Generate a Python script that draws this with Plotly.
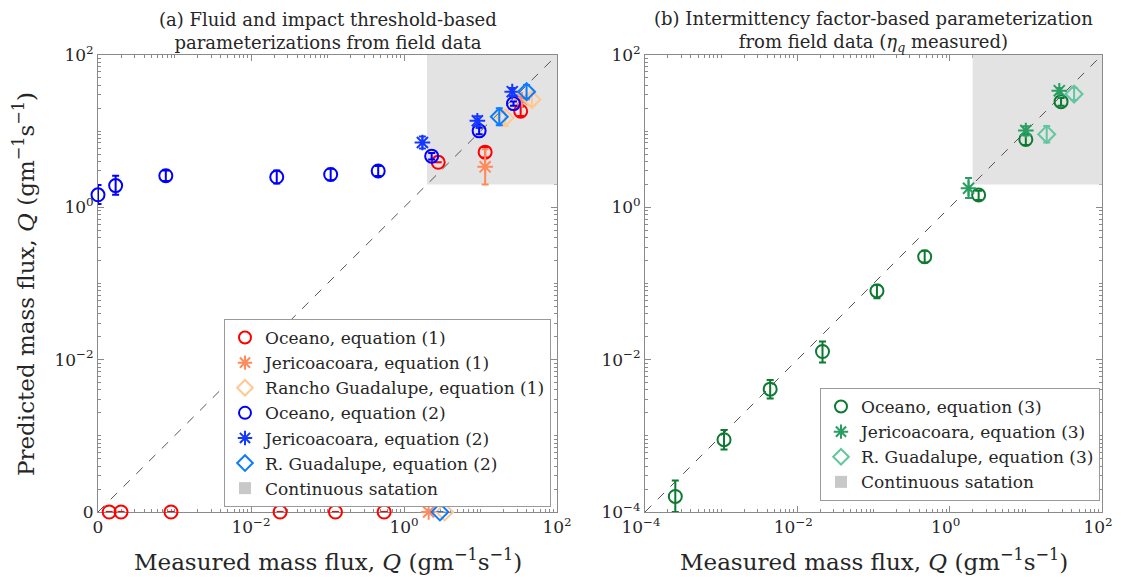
import numpy as np
import plotly.graph_objects as go

# ---------------- data ----------------
AXIS_MIN, AXIS_MAX = 1e-4, 1e2          # both panels: 1e-4 .. 1e2 ("0" drawn at 1e-4 on panel a)
CS_THRESHOLD = 2.0                       # continuous saltation region (Q > 2)

# panel (a)  -- equation (1)
oce1_x = [1.4e-4, 2.0e-4, 9.0e-4, 0.024, 0.127, 0.55, 2.8, 11.5, 33.5]
oce1_y = [1e-4, 1e-4, 1e-4, 1e-4, 1e-4, 1e-4, 3.9, 5.3, 18.3]   # 1e-4 == predicted 0
oce1_ep = [0, 0, 0, 0, 0, 0, 0, 0.9, 2.8]
oce1_em = [0, 0, 0, 0, 0, 0, 0, 0.8, 2.5]

jer1_x = [2.1, 11.5, 35.0]
jer1_y = [1e-4, 3.4, 26.0]
jer1_ep = [0, 2.4, 2.0]
jer1_em = [0, 1.4, 2.0]

rg1_x = [3.4, 21.0, 47.0]
rg1_y = [1e-4, 15.0, 26.0]
rg1_ep = [0, 4.0, 5.5]
rg1_em = [0, 3.2, 4.5]

# panel (a)  -- equation (2)
oce2_x = [1.0e-4, 1.7e-4, 7.7e-4, 0.0217, 0.11, 0.46, 2.3, 9.6, 27.0]
oce2_y = [1.46, 1.93, 2.6, 2.5, 2.7, 3.0, 4.7, 10.1, 23.0]
oce2_ep = [0.51, 0.67, 0.45, 0.54, 0.52, 0.49, 0.45, 1.0, 1.5]
oce2_em = [0.35, 0.47, 0.38, 0.44, 0.43, 0.42, 0.45, 1.0, 1.5]

jer2_x = [1.74, 9.1, 26.0]
jer2_y = [7.1, 13.7, 33.0]
jer2_ep = [1.4, 2.0, 4.0]
jer2_em = [1.2, 2.0, 4.0]

rg2_x = [2.95, 17.6, 40.0]
rg2_y = [1e-4, 15.5, 33.0]
rg2_ep = [0, 4.5, 7.5]
rg2_em = [0, 3.5, 6.0]

# panel (b)  -- equation (3)
oce3_x = [2.5e-4, 1.09e-3, 4.4e-3, 0.0214, 0.111, 0.47, 2.4, 10.0, 29.0]
oce3_y = [1.6e-4, 8.9e-4, 4.1e-3, 0.0128, 0.080, 0.225, 1.45, 7.8, 24.4]
oce3_ep = [1.0e-4, 3.0e-4, 1.3e-3, 4.5e-3, 0.016, 0.045, 0.2, 1.2, 2.9]
oce3_em = [0.6e-4, 2.3e-4, 1.0e-3, 3.6e-3, 0.016, 0.037, 0.2, 1.2, 2.9]

jer3_x = [1.77, 10.0, 27.5]
jer3_y = [1.78, 10.2, 34.0]
jer3_ep = [0.65, 1.4, 3.0]
jer3_em = [0.45, 1.4, 3.0]

rg3_x = [18.8, 43.0]
rg3_y = [9.1, 30.7]
rg3_ep = [2.6, 6.5]
rg3_em = [2.0, 5.0]

tick_vals = [1e-4, 1e-2, 1e0, 1e2]
tick_text_a = ["0", "10<sup>\u22122</sup>", "10<sup>0</sup>", "10<sup>2</sup>"]
tick_text_b = ["10<sup>\u22124</sup>", "10<sup>\u22122</sup>", "10<sup>0</sup>", "10<sup>2</sup>"]

# ---------------- styling ----------------
FONT = "DejaVu Serif"
TXT = "#262626"
AXC = "#8a8a8a"
SHADE = "#e3e3e3"
SWATCH = "#c8c8c8"

# the page body has an 8 px margin: the figure is sized to the window minus it,
# and positions measured in window pixels are shifted by OFF
OFF = 8
WIN_W, WIN_H = 1121, 582
W, H = WIN_W - OFF, WIN_H - OFF


def px(xw):
    return (xw - OFF) / W


def py(yw):
    return (H - (yw - OFF)) / H


xa_dom = [px(98), px(557)]
xb_dom = [px(645), px(1102)]
y_dom = [py(512), py(55)]

minor_vals = [m * 10.0 ** e for e in range(-4, 2) for m in range(2, 10)] + [1e-3, 1e-1, 1e1]
TINY = 1e-9   # lets plotly draw the (collapsed) error-bar caps of zero-length bars

fig = go.Figure()


def add_series(x, y, ep, em, name, color, symbol, xref, yref, legend, size=13):
    fig.add_trace(go.Scatter(
        x=x, y=y, mode="markers", name=name,
        xaxis=xref, yaxis=yref, legend=legend, cliponaxis=False,
        marker=dict(symbol=symbol, size=size, color=color,
                    line=dict(color=color, width=2)),
        error_y=dict(type="data", symmetric=False,
                     array=[max(e, TINY) for e in ep],
                     arrayminus=[max(e, TINY) for e in em],
                     color=color, thickness=2, width=3.5),
    ))


for xref, yref, legend in (("x", "y", "legend"), ("x2", "y2", "legend2")):
    # continuous saltation shading
    fig.add_trace(go.Scatter(
        x=[CS_THRESHOLD, AXIS_MAX, AXIS_MAX, CS_THRESHOLD, CS_THRESHOLD],
        y=[CS_THRESHOLD, CS_THRESHOLD, AXIS_MAX, AXIS_MAX, CS_THRESHOLD],
        mode="lines", fill="toself", fillcolor=SHADE, line=dict(width=0, color=SHADE),
        showlegend=False, xaxis=xref, yaxis=yref, hoverinfo="skip"))
    # legend swatch for the shaded region
    fig.add_trace(go.Scatter(
        x=[None], y=[None], mode="markers", name="Continuous satation",
        marker=dict(symbol="square", size=20, color=SWATCH),
        legendrank=2000, xaxis=xref, yaxis=yref, legend=legend))
    # 1:1 line
    fig.add_trace(go.Scatter(
        x=[AXIS_MIN, AXIS_MAX], y=[AXIS_MIN, AXIS_MAX], mode="lines",
        line=dict(color="#555555", width=1, dash="dash"), showlegend=False,
        xaxis=xref, yaxis=yref, hoverinfo="skip"))

add_series(oce1_x, oce1_y, oce1_ep, oce1_em, "Oceano, equation (1)", "#ff0000", "circle-open", "x", "y", "legend")
add_series(jer1_x, jer1_y, jer1_ep, jer1_em, "Jericoacoara, equation (1)", "#ff8a5c", "asterisk-open", "x", "y", "legend")
add_series(rg1_x, rg1_y, rg1_ep, rg1_em, "Rancho Guadalupe, equation (1)", "#ffc890", "diamond-open", "x", "y", "legend")
add_series(oce2_x, oce2_y, oce2_ep, oce2_em, "Oceano, equation (2)", "#0000ff", "circle-open", "x", "y", "legend")
add_series(jer2_x, jer2_y, jer2_ep, jer2_em, "Jericoacoara, equation (2)", "#1438ff", "asterisk-open", "x", "y", "legend")
add_series(rg2_x, rg2_y, rg2_ep, rg2_em, "R. Guadalupe, equation (2)", "#0a7cff", "diamond-open", "x", "y", "legend")

add_series(oce3_x, oce3_y, oce3_ep, oce3_em, "Oceano, equation (3)", "#0c7a30", "circle-open", "x2", "y2", "legend2")
add_series(jer3_x, jer3_y, jer3_ep, jer3_em, "Jericoacoara, equation (3)", "#2a9e62", "asterisk-open", "x2", "y2", "legend2")
add_series(rg3_x, rg3_y, rg3_ep, rg3_em, "R. Guadalupe, equation (3)", "#62c6a0", "diamond-open", "x2", "y2", "legend2")


def axis(dom, ttext, anchor, shift=0):
    return dict(
        type="log", range=[np.log10(AXIS_MIN), np.log10(AXIS_MAX)], domain=dom,
        anchor=anchor, automargin=False, tickmode="array", tickvals=tick_vals, ticktext=ttext,
        ticks="inside", ticklen=6, tickcolor=AXC, showline=True, linecolor=AXC,
        linewidth=1, mirror="allticks", showgrid=False, zeroline=False,
        layer="below traces", ticklabelshift=shift,
        tickfont=dict(family=FONT, size=17, color=TXT),
        minor=dict(tickmode="array", tickvals=minor_vals, ticks="inside",
                   ticklen=3, tickcolor=AXC, showgrid=False),
    )


legend_common = dict(
    font=dict(family=FONT, size=17, color=TXT), bgcolor="white",
    bordercolor="#9a9a9a", borderwidth=1, xanchor="right", yanchor="bottom",
    tracegroupgap=0, itemsizing="constant",
)

fig.update_layout(
    width=W, height=H, margin=dict(l=0, r=0, t=0, b=0, autoexpand=False),
    paper_bgcolor="white", plot_bgcolor="white", showlegend=True,
    xaxis=axis(xa_dom, tick_text_a, "y"),
    yaxis=axis(y_dom, tick_text_a, "x"),
    xaxis2=axis(xb_dom, tick_text_b, "y2", shift=-4),
    yaxis2=axis(y_dom, tick_text_b, "x2"),
    legend=dict(x=px(551), y=py(507), **legend_common),
    legend2=dict(x=px(1100), y=py(501), **legend_common),
)

ann_font_t = dict(family=FONT, size=18, color=TXT)
ann_font_ax = dict(family=FONT, size=23, color=TXT)
xa_c = sum(xa_dom) / 2
xb_c = sum(xb_dom) / 2
annotations = [
    dict(text="(a) Fluid and impact threshold-based<br>parameterizations from field data",
         x=xa_c, y=py(31), font=ann_font_t),
    dict(text="(b) Intermittency factor-based parameterization<br>from field data (<i>\u03b7</i><sub><i>q</i></sub> measured)",
         x=xb_c, y=py(31), font=ann_font_t),
    dict(text="Measured mass flux, <i>Q</i> (gm<sup>\u22121</sup>s<sup>\u22121</sup>)",
         x=xa_c, y=py(560), font=ann_font_ax),
    dict(text="Measured mass flux, <i>Q</i> (gm<sup>\u22121</sup>s<sup>\u22121</sup>)",
         x=xb_c, y=py(560), font=ann_font_ax),
    dict(text="Predicted mass flux, <i>Q</i> (gm<sup>\u22121</sup>s<sup>\u22121</sup>)",
         x=px(24), y=py(284), textangle=-90, font=ann_font_ax),
]
for a in annotations:
    a.update(xref="paper", yref="paper", showarrow=False, xanchor="center", yanchor="middle")
fig.update_layout(annotations=annotations)

fig.write_html("out.html")
